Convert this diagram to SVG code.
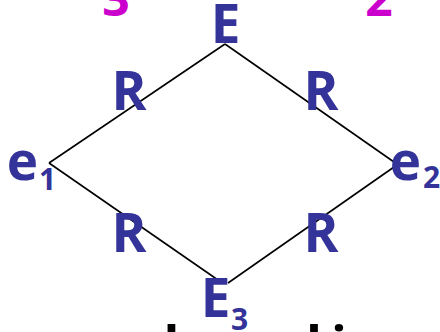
<svg xmlns="http://www.w3.org/2000/svg" width="440" height="332" viewBox="0 0 440 332">
<style>
.t{font-family:"Open Sans","Noto Sans","DejaVu Sans",sans-serif;font-weight:700;fill:#333399;text-anchor:middle}
.big{font-size:53px}
.sub{font-size:30px}
.mag{font-family:"Open Sans","Noto Sans",sans-serif;font-weight:700;fill:#CC00CC;font-size:48px;text-anchor:middle}
.blk{font-family:"Open Sans","Noto Sans",sans-serif;font-weight:700;fill:#000;font-size:52px}
.edge{fill:none;stroke:#000;stroke-width:1.6}
</style>
<rect width="440" height="332" fill="#fff"/>
<text class="mag" x="116" y="16">3</text>
<text class="mag" x="379" y="16">2</text>
<g id="connectors">
<line class="edge" x1="49" y1="163" x2="225" y2="44"/>
<line class="edge" x1="225" y1="44" x2="394" y2="162"/>
<line class="edge" x1="49" y1="163" x2="218" y2="280"/>
<line class="edge" x1="394" y1="167" x2="228" y2="283"/>
</g>
<g id="E"><text class="t big" x="225.5" y="43">E</text></g>
<g id="R1"><text class="t big" x="129" y="110">R</text></g>
<g id="R2"><text class="t big" x="321" y="110">R</text></g>
<g id="R3"><text class="t big" x="129" y="252">R</text></g>
<g id="R4"><text class="t big" x="321" y="252">R</text></g>
<g id="e1"><text class="t big" x="22.5" y="180">e</text><text class="t sub" x="47.5" y="190">1</text></g>
<g id="e2"><text class="t big" x="405.5" y="180">e</text><text class="t sub" x="431.5" y="188">2</text></g>
<g id="E3"><text class="t big" x="215.5" y="317">E</text><text class="t sub" x="239.5" y="330">3</text></g>
<text class="blk" x="163.5" y="364">l</text>
<text class="blk" x="322" y="364" text-anchor="end">d</text>
<text class="blk" x="339" y="364" text-anchor="middle">i</text>
</svg>
